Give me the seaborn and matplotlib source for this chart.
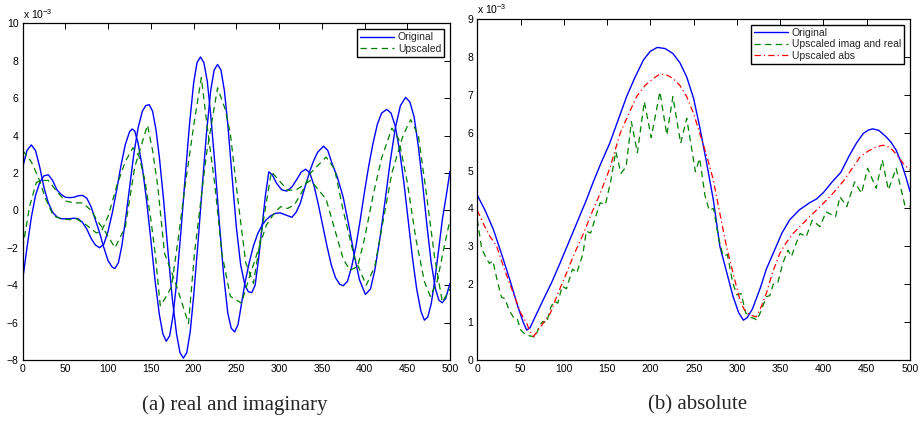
import matplotlib
matplotlib.use("Agg")
import matplotlib.pyplot as plt
import seaborn as sns
import pandas as pd

# ---------------- data (values in units of 1e-3) ----------------
# (a) real and imaginary parts
orig_re = [(0,2.3),(5,3.2),(10,3.5),(15,3.2),(20,2.3),(25,1.2),(30,0.4),(35,-0.1),(40,-0.35),(45,-0.45),
           (50,-0.45),(55,-0.45),(60,-0.42),(65,-0.45),(70,-0.65),(75,-1.0),(80,-1.5),(85,-1.85),(90,-2.0),
           (95,-1.8),(100,-1.1),(105,-0.1),(110,1.1),(115,2.4),(120,3.5),(125,4.2),(128,4.35),(131,4.25),
           (135,3.6),(140,2.3),(145,0.5),(150,-1.6),(155,-3.8),(160,-5.6),(164,-6.6),(168,-7.0),(172,-6.7),
           (176,-5.6),(180,-3.9),(185,-1.2),(190,1.7),(195,4.5),(200,6.8),(204,7.9),(208,8.2),(212,7.9),
           (216,6.9),(220,5.1),(225,2.4),(230,-0.6),(235,-3.4),(240,-5.5),(244,-6.3),(248,-6.5),(252,-6.1),
           (256,-5.0),(260,-3.9),(265,-2.8),(270,-1.9),(275,-1.25),(280,-0.8),(285,-0.5),(290,-0.3),
           (295,-0.17),(301,-0.13),(308,-0.25),(315,-0.37),(320,-0.1),(325,0.4),(330,1.2),(336,2.1),
           (340,2.6),(345,3.1),(352,3.43),(357,3.2),(362,2.5),(368,1.8),(375,0.7),(382,-0.9),(388,-2.4),
           (394,-3.7),(401,-4.5),(407,-4.2),(412,-3.2),(418,-1.5),(424,0.5),(430,2.6),(436,4.4),(442,5.6),
           (448,6.04),(453,5.8),(458,5.0),(463,3.4),(468,1.4),(473,-0.8),(478,-2.8),(483,-4.2),(487,-4.8),
           (491,-4.94),(495,-4.7),(500,-3.9)]
orig_im = [(0,-3.7),(5,-2.0),(10,-0.4),(15,0.8),(20,1.5),(25,1.85),(30,1.9),(35,1.6),(40,1.1),(45,0.85),
           (50,0.7),(55,0.68),(60,0.7),(65,0.78),(70,0.8),(75,0.65),(80,0.2),(85,-0.5),(90,-1.2),(95,-2.0),
           (100,-2.7),(105,-3.05),(108,-3.1),(112,-2.8),(116,-1.9),(120,-0.6),(125,1.2),(130,3.0),(135,4.4),
           (140,5.3),(144,5.6),(148,5.65),(152,5.3),(156,4.3),(160,2.8),(165,0.5),(170,-2.2),(175,-4.7),
           (180,-6.6),(184,-7.6),(188,-7.9),(192,-7.6),(196,-6.5),(200,-4.6),(205,-1.8),(210,1.2),(215,4.1),
           (220,6.4),(224,7.5),(228,7.8),(232,7.5),(236,6.4),(240,4.6),(245,1.8),(250,-0.9),(255,-2.9),
           (260,-4.0),(264,-4.35),(268,-4.4),(272,-4.0),(276,-2.6),(280,-0.9),(284,0.8),(288,2.06),(292,1.9),
           (297,1.45),(303,1.1),(309,1.03),(315,1.25),(320,1.6),(326,2.05),(331,2.2),(336,2.0),(341,1.3),
           (346,0.3),(351,-0.8),(356,-1.9),(361,-2.9),(366,-3.6),(371,-3.95),(375,-4.03),(380,-3.8),
           (385,-3.0),(390,-1.9),(395,-0.5),(400,1.0),(405,2.4),(410,3.6),(415,4.6),(420,5.2),(426,5.4),
           (431,5.2),(436,4.5),(441,3.2),(446,1.5),(451,-0.5),(456,-2.5),(461,-4.2),(466,-5.4),(470,-5.87),
           (474,-5.7),(478,-5.0),(482,-3.8),(487,-2.0),(491,-0.5),(496,0.9),(500,2.1)]
up_re = [(0,3.2),(5,2.9),(10,2.6),(18,1.8),(27,0.6),(36,-0.3),(45,-0.45),(55,-0.5),(63,-0.45),(75,-0.8),
         (86,-1.2),(92,-1.15),(100,-0.3),(110,1.3),(120,2.6),(129,3.35),(136,2.9),(143,1.6),(150,-0.5),
         (155,-2.3),(161,-5.1),(168,-4.6),(174,-4.1),(182,-1.5),(190,1.3),(200,4.5),(209,7.1),(215,4.8),
         (225,1.3),(233,-2.3),(243,-4.6),(256,-4.96),(265,-3.6),(275,-2.2),(285,-0.8),(295,-0.1),(302,0.2),
         (310,0.1),(318,0.3),(327,1.0),(337,2.0),(355,2.85),(365,2.2),(375,0.0),(388,-2.5),(402,-4.0),
         (412,-3.0),(422,-0.5),(432,2.0),(445,4.0),(454,4.85),(463,4.0),(472,1.0),(482,-2.5),(491,-4.9),
         (500,-4.2)]
up_im = [(0,-2.0),(8,0.2),(16,1.5),(22,1.6),(30,1.6),(40,1.0),(50,0.5),(60,0.4),(70,0.4),(80,0.0),
         (88,-0.6),(96,-1.1),(108,-2.0),(120,-0.9),(131,2.3),(146,4.56),(152,3.2),(158,1.3),(166,-2.3),
         (179,-3.9),(194,-6.05),(201,-2.3),(215,3.0),(228,6.55),(237,5.4),(243,4.1),(252,0.5),(261,-2.8),
         (270,-3.9),(280,-1.0),(291,2.06),(300,1.6),(310,1.07),(320,1.1),(337,1.6),(355,0.6),(365,-1.0),
         (375,-2.6),(383,-3.2),(392,-3.0),(400,-1.5),(410,0.8),(420,2.8),(432,4.4),(440,3.8),(450,1.5),
         (460,-1.5),(470,-3.8),(477,-4.6),(485,-3.8),(492,-2.2),(500,-0.5)]

# (b) absolute values
orig_abs = [(0,4.35),(9,3.95),(18.5,3.45),(28,2.8),(37.8,2.1),(47,1.4),(53,1.0),(57,0.79),(61,0.85),(66,1.1),
            (76,1.58),(86,2.05),(95.5,2.55),(105,3.07),(114.7,3.6),(126,4.22),(134,4.7),(143,5.2),(153,5.72),
            (163,6.35),(172.5,6.95),(182,7.45),(192,7.92),(200,8.15),(208,8.25),(217,8.22),(226,8.09),
            (234,7.85),(242,7.47),(250,6.9),(257,6.15),(265,5.2),(272.8,4.22),(280.3,3.0),(288,2.33),
            (295.6,1.67),(302,1.25),(307.5,1.05),(312,1.12),(318,1.35),(327,1.9),(334,2.4),(342,2.82),
            (352,3.35),(361,3.7),(372,3.96),(384,4.15),(392,4.25),(400,4.42),(410,4.7),(420,4.95),(430,5.4),
            (438,5.72),(446,5.98),(452,6.07),(457,6.1),(464,6.06),(472,5.9),(478,5.75),(484,5.54),(490,5.2),
            (495,4.85),(500,4.45)]
up_parts_abs = [(0,3.7),(5,2.95),(10,2.7),(14,2.55),(18,2.62),(23,2.1),(28,1.65),(32,1.62),(37,1.3),
                (42,1.12),(46,1.1),(50,0.8),(55,0.68),(60,0.64),(64,0.62),(67,0.6),(72,0.92),(76,1.02),
                (80,0.98),(85,1.4),(89,1.55),(93,1.5),(98,1.95),(103,1.88),(110,2.4),(115,2.3),(122,2.8),
                (126,3.4),(131,3.35),(137,3.8),(142,4.15),(148,4.1),(154,4.7),(160,5.5),(166,4.93),(172,5.1),
                (178,6.29),(185,5.47),(193,6.82),(201,5.87),(211,7.08),(219,5.94),(226,6.95),(235,5.72),
                (242,6.38),(252,4.97),(257,5.32),(263,4.35),(268,3.95),(273,4.0),(279,3.2),(284,2.75),
                (289,2.78),(295,2.05),(300,1.72),(305,1.75),(310,1.25),(316,1.12),(320,1.1),(323,1.05),
                (328,1.3),(334,1.67),(338,1.7),(342,2.0),(347,2.02),(353,2.55),(359,2.9),(363,2.73),
                (368,3.05),(373,3.34),(380,3.25),(387,3.69),(396,3.52),(403,3.91),(414,3.78),(419,4.31),
                (427,4.05),(436,4.7),(444,4.4),(451,5.06),(461,4.53),(468,5.28),(475,4.49),(484,5.06),
                (494,4.09),(500,4.05)]
up_abs = [(0,3.95),(8,3.55),(15,3.25),(22.5,2.99),(32,2.35),(41.7,1.76),(50,1.25),(57,0.97),(61,0.75),
          (65,0.62),(70,0.78),(77,1.0),(84.3,1.23),(93,1.75),(103,2.29),(112,2.8),(122.7,3.34),(132,3.87),
          (142,4.4),(153,5.05),(165,5.98),(175,6.5),(184,6.95),(194,7.25),(203.5,7.43),(211,7.55),(219,7.52),
          (226.4,7.43),(234,7.25),(242,6.95),(250,6.5),(257,5.98),(263,5.55),(268.7,5.1),(272.7,4.75),
          (280,3.9),(288,2.99),(296,2.25),(303.5,1.58),(308,1.35),(311,1.27),(316,1.18),(322.5,1.14),
          (328,1.4),(334,1.76),(341,2.3),(349.5,2.81),(357,3.1),(365,3.34),(374,3.55),(384,3.78),(394,4.0),
          (403.5,4.22),(413,4.45),(423,4.72),(433,5.05),(442.4,5.36),(452,5.52),(461.7,5.63),(469,5.67),
          (475,5.62),(480,5.54),(486,5.38),(492,5.19),(500,5.01)]

left_xticks = list(range(0, 501, 50))
left_yticks = list(range(-8, 11, 2))
right_yticks = list(range(0, 10, 1))
legend_a = ["Original", "Upscaled"]
legend_b = ["Original", "Upscaled imag and real", "Upscaled abs"]
captions = ["(a) real and imaginary", "(b) absolute"]

# ---------------- style ----------------
sns.set_theme(style="white")
plt.rcParams["font.family"] = ["Liberation Sans", "DejaVu Sans"]
plt.rcParams["mathtext.default"] = "regular"

BLUE = (0, 0, 1)
GREEN = (0, 0.5, 0)
RED = (1, 0, 0)

fig = plt.figure(figsize=(9.23, 4.41), dpi=100)
axA = fig.add_axes([22.7 / 923, 81 / 441, 427.3 / 923, 336.7 / 441])
axB = fig.add_axes([477.3 / 923, 81 / 441, 432.7 / 923, 341 / 441])


def df(pairs):
    return pd.DataFrame(pairs, columns=["x", "y"])


def draw(ax, pairs, color, ls, lw, dashes=None):
    d = df(pairs)
    sns.lineplot(data=d, x="x", y="y", ax=ax, color=color, linewidth=lw,
                 estimator=None, sort=False, legend=False)
    line = ax.lines[-1]
    line.set_linestyle(ls)
    if dashes is not None:
        line.set_dashes(dashes)
    return line


# (a)
lA1 = draw(axA, orig_re, BLUE, "-", 1.0)
draw(axA, orig_im, BLUE, "-", 1.0)
lA2 = draw(axA, up_re, GREEN, "--", 0.9, (5, 3.5))
draw(axA, up_im, GREEN, "--", 0.9, (5, 3.5))

# (b)
lB1 = draw(axB, orig_abs, BLUE, "-", 1.0)
lB2 = draw(axB, up_parts_abs, GREEN, "--", 0.9, (5, 3.5))
lB3 = draw(axB, up_abs, RED, "-.", 0.9, (5, 2.5, 1, 2.5))


def style(ax, ylim, yticks):
    ax.set_xlim(0, 500)
    ax.set_ylim(*ylim)
    ax.set_xticks(left_xticks)
    ax.set_yticks(yticks)
    ax.set_xlabel("")
    ax.set_ylabel("")
    ax.tick_params(direction="in", length=4, width=0.7, top=True, right=True,
                   labelsize=7.5, pad=3, colors="black")
    for s in ax.spines.values():
        s.set_visible(True)
        s.set_color("black")
        s.set_linewidth(0.9)
    ax.text(0, 1.008, r"x 10$^{-3}$", transform=ax.transAxes, ha="left", va="bottom",
            fontsize=7.5, color="black")


style(axA, (-8, 10), left_yticks)
style(axB, (0, 9), right_yticks)

legA = axA.legend([lA1, lA2], legend_a, loc="upper right", fontsize=7.5, frameon=True,
                  fancybox=False, edgecolor="black", framealpha=1, borderaxespad=0.55,
                  handlelength=3.2, handletextpad=0.4, borderpad=0.3, labelspacing=0.15)
legA.get_frame().set_linewidth(1.0)
legB = axB.legend([lB1, lB2, lB3], legend_b, loc="upper right", fontsize=7.5, frameon=True,
                  fancybox=False, edgecolor="black", framealpha=1, borderaxespad=0.55,
                  handlelength=3.2, handletextpad=0.4, borderpad=0.3, labelspacing=0.15)
legB.get_frame().set_linewidth(1.0)

fig.text(235 / 923, 1 - 405 / 441, captions[0], ha="center", va="center",
         fontsize=15, family=["Liberation Serif", "DejaVu Serif"])
fig.text(698 / 923, 1 - 405 / 441, captions[1], ha="center", va="center",
         fontsize=15, family=["Liberation Serif", "DejaVu Serif"])

fig.savefig("out.png", dpi=100)
